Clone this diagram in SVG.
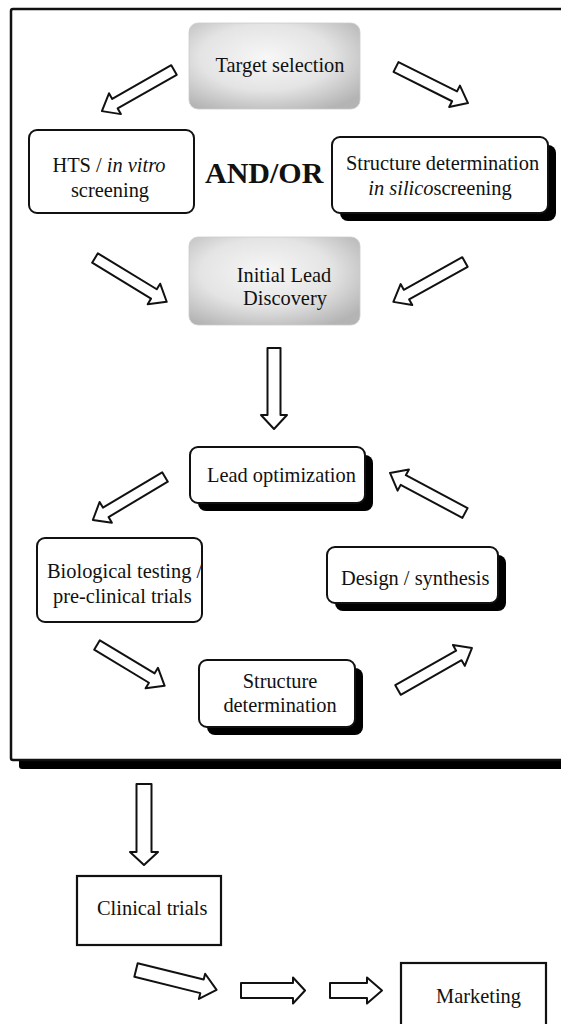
<svg xmlns="http://www.w3.org/2000/svg" width="561" height="1024" viewBox="0 0 561 1024" font-family="'Liberation Serif','Times New Roman',serif">
<defs>
<radialGradient id="gray" cx="45%" cy="40%" r="70%">
<stop offset="0" stop-color="#f7f7f7"/>
<stop offset="0.55" stop-color="#e4e4e4"/>
<stop offset="1" stop-color="#b4b4b4"/>
</radialGradient>
<style>
text{font-family:"Liberation Serif","Times New Roman",serif;font-size:20.4px;fill:#111}
.box{fill:#fff;stroke:#111;stroke-width:2}
.shadow{fill:#000}
.grad{fill:url(#gray);stroke:#ccc;stroke-width:0.8}
.arrow{fill:#fff;stroke:#111;stroke-width:2;stroke-linejoin:round}
.mid{text-anchor:middle}
</style>
</defs>
<rect width="561" height="1024" fill="#fff"/>
<g id="frame">
<rect x="19" y="18" width="620" height="751" rx="3" class="shadow"/>
<rect x="11" y="9" width="620" height="751" rx="2" fill="#fff" stroke="#111" stroke-width="2.5"/>
</g>
<g id="target">
<rect x="189" y="23" width="171" height="86" rx="9" class="grad"/>
<text x="280" y="72" class="mid">Target selection</text>
</g>
<g id="hts">
<rect x="29" y="130" width="165" height="83" rx="8" class="box"/>
<text x="109" y="172" class="mid">HTS / <tspan font-style="italic">in vitro</tspan></text>
<text x="110" y="197" class="mid">screening</text>
</g>
<g id="andor">
<text x="205" y="183" font-weight="bold" style="font-size:30px">AND/OR</text>
</g>
<g id="structure1">
<rect x="340" y="145" width="216" height="76" rx="8" class="shadow"/>
<rect x="332" y="137" width="216" height="76" rx="8" class="box"/>
<text x="346" y="170">Structure determination</text>
<text x="440" y="195" class="mid"><tspan font-style="italic">in silico</tspan>screening</text>
</g>
<g id="initial">
<rect x="189" y="237" width="171" height="88" rx="9" class="grad"/>
<text x="284" y="282" class="mid">Initial Lead</text>
<text x="285" y="305" class="mid">Discovery</text>
</g>
<g id="leadopt">
<rect x="198" y="455" width="175" height="56" rx="8" class="shadow"/>
<rect x="190" y="447" width="175" height="56" rx="8" class="box"/>
<text x="207" y="482">Lead optimization</text>
</g>
<g id="bio">
<rect x="37" y="538" width="165" height="84" rx="8" class="box"/>
<text x="47" y="578">Biological testing /</text>
<text x="53" y="603">pre-clinical trials</text>
</g>
<g id="design">
<rect x="335" y="555" width="171" height="56" rx="8" class="shadow"/>
<rect x="327" y="547" width="171" height="56" rx="8" class="box"/>
<text x="341" y="585">Design / synthesis</text>
</g>
<g id="structure2">
<rect x="207" y="668" width="156" height="67" rx="8" class="shadow"/>
<rect x="199" y="660" width="156" height="67" rx="8" class="box"/>
<text x="280" y="688" class="mid">Structure</text>
<text x="280" y="712" class="mid">determination</text>
</g>
<g id="clinical">
<rect x="77" y="876" width="144" height="69" fill="#fff" stroke="#111" stroke-width="2.2"/>
<text x="97" y="915">Clinical trials</text>
</g>
<g id="marketing">
<rect x="401" y="963" width="145" height="80" fill="#fff" stroke="#111" stroke-width="2.2"/>
<text x="436" y="1003">Marketing</text>
</g>
<g id="connectors">
<path class="arrow" transform="translate(174,70) rotate(150.3)" d="M0,-5.5 H68 V-12 L83,0 L68,12 V5.5 H0 Z"/>
<path class="arrow" transform="translate(396,67) rotate(26.6)" d="M0,-5.5 H65.5 V-12 L80.5,0 L65.5,12 V5.5 H0 Z"/>
<path class="arrow" transform="translate(95,258) rotate(31.4)" d="M0,-5.5 H69 V-12 L84,0 L69,12 V5.5 H0 Z"/>
<path class="arrow" transform="translate(465,262) rotate(150.9)" d="M0,-5.5 H67 V-12 L82,0 L67,12 V5.5 H0 Z"/>
<path class="arrow" transform="translate(274,348) rotate(90)" d="M0,-6.5 H67 V-13 L81,0 L67,13 V6.5 H0 Z"/>
<path class="arrow" transform="translate(165,477) rotate(149.2)" d="M0,-5.5 H69 V-12 L84,0 L69,12 V5.5 H0 Z"/>
<path class="arrow" transform="translate(465,513) rotate(-151.9)" d="M0,-5.5 H70 V-12 L85,0 L70,12 V5.5 H0 Z"/>
<path class="arrow" transform="translate(97,645) rotate(31.1)" d="M0,-5.5 H64 V-12 L79,0 L64,12 V5.5 H0 Z"/>
<path class="arrow" transform="translate(398,690) rotate(-29.6)" d="M0,-5.5 H70 V-12 L85,0 L70,12 V5.5 H0 Z"/>
<path class="arrow" transform="translate(144,784) rotate(90)" d="M0,-7.5 H68 V-14 L81,0 L68,14 V7.5 H0 Z"/>
<path class="arrow" transform="translate(136,970) rotate(13.9)" d="M0,-7 H68 V-13 L83,0 L68,13 V7 H0 Z"/>
<path class="arrow" transform="translate(241,990.5)" d="M0,-7.5 H52 V-13 L64,0 L52,13 V7.5 H0 Z"/>
<path class="arrow" transform="translate(330,990.5)" d="M0,-7.5 H37 V-13 L52,0 L37,13 V7.5 H0 Z"/>
</g>
</svg>
